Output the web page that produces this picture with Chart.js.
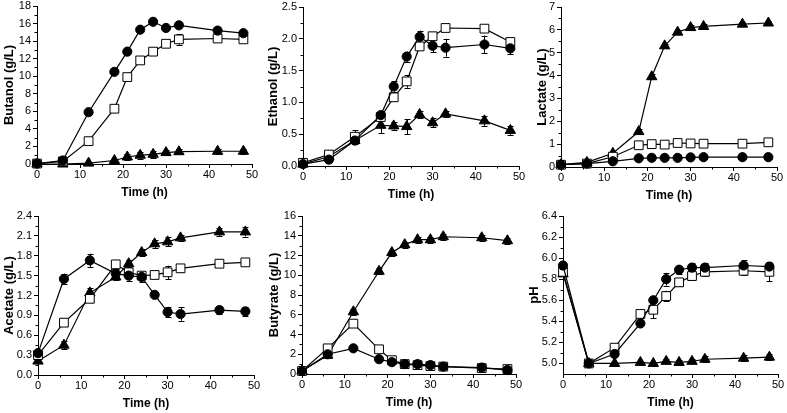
<!DOCTYPE html>
<html>
<head>
<meta charset="utf-8">
<script src="https://cdn.jsdelivr.net/npm/chart.js@4"></script>
<style>
  html, body { margin: 0; padding: 0; background: #fff; }
  body { position: relative; width: 787px; height: 413px; overflow: hidden; }
  canvas { position: absolute; }
</style>
</head>
<body>
<script>
'use strict';

// ── Sampling times (h) ─────────────────────────
const TIME    = [0, 6, 12, 18, 21, 24, 27, 30, 33, 42, 48];
const X_TICKS = [0, 10, 20, 30, 40, 50];

// ── Butanol (g/L) ──────────────────────────────
const BUTANOL_CIRCLE   = [0.05, 0.4, 5.9, 10.5, 12.8, 15.3, 16.2, 15.5, 15.8, 15.2, 14.9];
const BUTANOL_SQUARE   = [0.05, 0.3, 2.6, 6.3, 9.9, 11.8, 12.8, 13.7, 14.2, 14.3, 14.2];
const BUTANOL_TRIANGLE = [0, 0, 0.1, 0.4, 0.8, 1.0, 1.1, 1.3, 1.4, 1.45, 1.45];
const BUTANOL_CIRCLE_ERR   = [0, 0, 0, 0, 0, 0, 0, 0, 0.2, 0, 0];
const BUTANOL_SQUARE_ERR   = [0, 0, 0, 0, 0.3, 0.3, 0, 0.3, 0.6, 0, 0];
const BUTANOL_TRIANGLE_ERR = [0, 0, 0, 0, 0.3, 0.4, 0.4, 0.3, 0.3, 0.3, 0.3];
const BUTANOL_TICKS = [0, 2, 4, 6, 8, 10, 12, 14, 16, 18];

// ── Ethanol (g/L) ──────────────────────────────
const ETHANOL_CIRCLE   = [0.03, 0.1, 0.4, 0.8, 1.25, 1.72, 2.03, 1.89, 1.86, 1.91, 1.85];
const ETHANOL_SQUARE   = [0.05, 0.18, 0.46, 0.77, 1.08, 1.33, 1.88, 2.04, 2.17, 2.16, 1.95];
const ETHANOL_TRIANGLE = [0.03, 0.15, 0.4, 0.64, 0.63, 0.62, 0.81, 0.68, 0.82, 0.71, 0.56];
const ETHANOL_CIRCLE_ERR   = [0, 0, 0, 0.03, 0.08, 0.08, 0.1, 0.1, 0.14, 0.14, 0.09];
const ETHANOL_SQUARE_ERR   = [0, 0, 0.1, 0, 0, 0.1, 0, 0.05, 0.04, 0, 0.05];
const ETHANOL_TRIANGLE_ERR = [0, 0, 0.06, 0.12, 0.06, 0.12, 0.05, 0.07, 0.05, 0.08, 0.07];
const ETHANOL_TICKS = [0, 0.5, 1.0, 1.5, 2.0, 2.5];

// ── Lactate (g/L) ──────────────────────────────
const LACTATE_CIRCLE   = [0.1, 0.15, 0.25, 0.38, 0.4, 0.4, 0.4, 0.42, 0.43, 0.43, 0.43];
const LACTATE_SQUARE   = [0.1, 0.15, 0.45, 0.95, 1.0, 0.98, 1.05, 1.03, 1.02, 1.02, 1.08];
const LACTATE_TRIANGLE = [0.1, 0.2, 0.6, 1.55, 3.95, 5.3, 5.9, 6.1, 6.15, 6.25, 6.3];
const LACTATE_CIRCLE_ERR   = [0, 0, 0, 0, 0, 0, 0, 0, 0, 0, 0];
const LACTATE_SQUARE_ERR   = [0, 0, 0, 0.08, 0.08, 0.08, 0.08, 0.08, 0.08, 0.08, 0.08];
const LACTATE_TRIANGLE_ERR = [0, 0, 0, 0.1, 0.1, 0.1, 0.1, 0.1, 0.1, 0.1, 0.1];
const LACTATE_TICKS = [0, 1, 2, 3, 4, 5, 6, 7];

// ── Acetate (g/L) ──────────────────────────────
const ACETATE_CIRCLE   = [0.33, 1.45, 1.73, 1.53, 1.5, 1.48, 1.21, 0.95, 0.92, 0.98, 0.96];
const ACETATE_SQUARE   = [0.3, 0.79, 1.15, 1.67, 1.55, 1.5, 1.51, 1.55, 1.61, 1.68, 1.7];
const ACETATE_TRIANGLE = [0.21, 0.45, 1.24, 1.48, 1.68, 1.85, 1.98, 2.01, 2.07, 2.16, 2.16];
const ACETATE_CIRCLE_ERR   = [0, 0.08, 0.1, 0.07, 0.08, 0.08, 0.05, 0.08, 0.1, 0.06, 0.07];
const ACETATE_SQUARE_ERR   = [0, 0, 0.04, 0, 0.04, 0, 0, 0.1, 0.05, 0.05, 0];
const ACETATE_TRIANGLE_ERR = [0, 0.06, 0.07, 0.05, 0.05, 0.05, 0.06, 0.07, 0.05, 0.06, 0.07];
const ACETATE_TICKS = [0, 0.3, 0.6, 0.9, 1.2, 1.5, 1.8, 2.1, 2.4];

// ── Butyrate (g/L) ─────────────────────────────
const BUTYRATE_CIRCLE   = [0.3, 2.0, 2.6, 1.5, 1.2, 1.0, 1.0, 0.9, 0.75, 0.65, 0.4];
const BUTYRATE_SQUARE   = [0.3, 2.6, 5.1, 2.5, 1.4, 1.0, 0.9, 0.8, 0.75, 0.6, 0.5];
const BUTYRATE_TRIANGLE = [0.3, 1.9, 6.3, 10.4, 12.3, 13.1, 13.6, 13.6, 13.9, 13.8, 13.5];
const BUTYRATE_CIRCLE_ERR   = [0, 0, 0, 0, 0, 0, 0, 0, 0, 0, 0];
const BUTYRATE_SQUARE_ERR   = [0, 0, 0, 0, 0, 0, 0, 0, 0, 0, 0];
const BUTYRATE_TRIANGLE_ERR = [0, 0.3, 0.3, 0.3, 0.3, 0.3, 0.3, 0.3, 0.3, 0.3, 0.3];
const BUTYRATE_TICKS = [0, 2, 4, 6, 8, 10, 12, 14, 16];

// ── pH ─────────────────────────────────────────
const PH_CIRCLE   = [5.93, 5.0, 5.09, 5.38, 5.6, 5.8, 5.89, 5.91, 5.91, 5.93, 5.92];
const PH_SQUARE   = [5.87, 5.0, 5.15, 5.47, 5.51, 5.64, 5.77, 5.83, 5.87, 5.88, 5.87];
const PH_TRIANGLE = [5.85, 5.0, 5.0, 5.01, 5.0, 5.02, 5.01, 5.02, 5.04, 5.05, 5.06];
const PH_CIRCLE_ERR   = [0, 0, 0, 0, 0, 0.06, 0.04, 0.04, 0.04, 0.05, 0.03];
const PH_SQUARE_ERR   = [0, 0, 0, 0, 0.08, 0.05, 0.03, 0.04, 0.04, 0.04, 0.09];
const PH_TRIANGLE_ERR = [0, 0, 0, 0, 0, 0.02, 0.02, 0.02, 0.03, 0.03, 0.03];
const PH_TICKS = [5.0, 5.2, 5.4, 5.6, 5.8, 6.0, 6.2, 6.4];

// ── Panels (layout: plot area left/top/right/bottom, y-title centre x) ──
const PANELS = [
  { title: 'Butanol (g/L)', area: [37, 6, 252, 164], titleX: 9, min: 0, max: 18, ticks: BUTANOL_TICKS, dec: 0,
    series: [BUTANOL_CIRCLE, BUTANOL_SQUARE, BUTANOL_TRIANGLE], err: [BUTANOL_CIRCLE_ERR, BUTANOL_SQUARE_ERR, BUTANOL_TRIANGLE_ERR] },
  { title: 'Ethanol (g/L)', area: [303, 7, 519, 166], titleX: 273, min: 0, max: 2.5, ticks: ETHANOL_TICKS, dec: 1,
    series: [ETHANOL_CIRCLE, ETHANOL_SQUARE, ETHANOL_TRIANGLE], err: [ETHANOL_CIRCLE_ERR, ETHANOL_SQUARE_ERR, ETHANOL_TRIANGLE_ERR] },
  { title: 'Lactate (g/L)', area: [561, 7, 777, 167], titleX: 542, min: 0, max: 7, ticks: LACTATE_TICKS, dec: 0,
    series: [LACTATE_CIRCLE, LACTATE_SQUARE, LACTATE_TRIANGLE], err: [LACTATE_CIRCLE_ERR, LACTATE_SQUARE_ERR, LACTATE_TRIANGLE_ERR] },
  { title: 'Acetate (g/L)', area: [38, 216, 254, 375], titleX: 9, min: 0, max: 2.4, ticks: ACETATE_TICKS, dec: 1,
    series: [ACETATE_CIRCLE, ACETATE_SQUARE, ACETATE_TRIANGLE], err: [ACETATE_CIRCLE_ERR, ACETATE_SQUARE_ERR, ACETATE_TRIANGLE_ERR] },
  { title: 'Butyrate (g/L)', area: [302, 216, 516, 374], titleX: 274, min: 0, max: 16, ticks: BUTYRATE_TICKS, dec: 0,
    series: [BUTYRATE_CIRCLE, BUTYRATE_SQUARE, BUTYRATE_TRIANGLE], err: [BUTYRATE_CIRCLE_ERR, BUTYRATE_SQUARE_ERR, BUTYRATE_TRIANGLE_ERR] },
  { title: 'pH', area: [563, 216, 778, 374], titleX: 534, min: 4.9, max: 6.4, ticks: PH_TICKS, dec: 1,
    series: [PH_CIRCLE, PH_SQUARE, PH_TRIANGLE], err: [PH_CIRCLE_ERR, PH_SQUARE_ERR, PH_TRIANGLE_ERR] },
];

// ── Marker styles: filled circle, open square, filled triangle ──
const MARKERS = [
  { pointStyle: 'circle',   radius: 4.6, bg: '#000' },
  { pointStyle: 'rect',     radius: 6.2, bg: '#fff' },
  { pointStyle: 'triangle', radius: 6.0, bg: '#000' },
];

Chart.defaults.font.family = '"Liberation Sans", Arial, sans-serif';
Chart.defaults.color = '#000';

// ── Plugins ────────────────────────────────────
const px = v => Math.round(v) + 0.5;

const errorBars = {
  id: 'errorBars',
  beforeDatasetsDraw(chart) {
    const { ctx, scales: { y } } = chart;
    ctx.save();
    ctx.strokeStyle = '#000';
    ctx.lineWidth = 1;
    chart.data.datasets.forEach((ds, i) => {
      if (!ds.err) return;
      chart.getDatasetMeta(i).data.forEach((pt, j) => {
        const e = ds.err[j];
        if (!e) return;
        const v = ds.data[j].y;
        const y1 = y.getPixelForValue(v + e), y2 = y.getPixelForValue(v - e);
        const x = px(pt.x);
        ctx.beginPath();
        ctx.moveTo(x, y1); ctx.lineTo(x, y2);
        ctx.moveTo(x - 3, px(y1)); ctx.lineTo(x + 3, px(y1));
        ctx.moveTo(x - 3, px(y2)); ctx.lineTo(x + 3, px(y2));
        ctx.stroke();
      });
    });
    ctx.restore();
  },
};

const minorTicks = {
  id: 'minorTicks',
  afterDraw(chart) {
    const { ctx, scales: { x, y }, chartArea: a } = chart;
    ctx.save();
    ctx.strokeStyle = '#000';
    ctx.lineWidth = 1;
    ctx.beginPath();
    const xt = x.ticks.map(t => t.value);
    for (let i = 0; i < xt.length - 1; i++) {
      const p = px(x.getPixelForValue((xt[i] + xt[i + 1]) / 2));
      ctx.moveTo(p, a.bottom); ctx.lineTo(p, a.bottom + 2.5);
    }
    const yt = y.ticks.map(t => t.value);
    for (let i = 0; i < yt.length - 1; i++) {
      const p = px(y.getPixelForValue((yt[i] + yt[i + 1]) / 2));
      ctx.moveTo(a.left, p); ctx.lineTo(a.left - 2.5, p);
    }
    ctx.stroke();
    ctx.restore();
  },
};

// ── Build one panel ────────────────────────────
function makePanel(p) {
  const [l, t, r, b] = p.area;
  const cLeft = Math.floor(p.titleX - 10);
  const cTop = t - 10;
  const xAxisH = 36;
  const canvas = document.createElement('canvas');
  canvas.width = r + 10 - cLeft;
  canvas.height = b + xAxisH - cTop;
  canvas.style.left = cLeft + 'px';
  canvas.style.top = cTop + 'px';
  document.body.appendChild(canvas);

  const datasets = p.series.map((vals, i) => ({
    data: TIME.map((tm, j) => ({ x: tm, y: vals[j] })),
    err: p.err[i],
    borderColor: '#000',
    borderWidth: 1.2,
    pointStyle: MARKERS[i].pointStyle,
    pointRadius: MARKERS[i].radius,
    pointBackgroundColor: MARKERS[i].bg,
    pointBorderColor: '#000',
    pointBorderWidth: 1,
    tension: 0,
    clip: false,
  }));

  new Chart(canvas, {
    type: 'line',
    data: { datasets },
    options: {
      responsive: false,
      animation: false,
      events: [],
      layout: { padding: { left: 0, top: 10, right: 10, bottom: 0 } },
      plugins: { legend: { display: false }, tooltip: { enabled: false } },
      scales: {
        x: {
          type: 'linear', min: 0, max: 50,
          afterBuildTicks: s => { s.ticks = X_TICKS.map(v => ({ value: v })); },
          afterFit: s => { s.height = xAxisH; },
          grid: { drawOnChartArea: false, tickLength: 4, color: '#000' },
          border: { color: '#000', width: 1 },
          ticks: { font: { size: 11 }, padding: 0, maxRotation: 0, color: '#000' },
          title: { display: true, text: 'Time (h)', font: { size: 12, weight: 'bold' }, color: '#000', padding: 0 },
        },
        y: {
          type: 'linear', min: p.min, max: p.max,
          afterBuildTicks: s => { s.ticks = p.ticks.map(v => ({ value: v })); },
          afterFit: s => { s.width = l - cLeft; },
          grid: { drawOnChartArea: false, tickLength: 4, color: '#000' },
          border: { color: '#000', width: 1 },
          ticks: { font: { size: 11 }, padding: 2, color: '#000', callback: v => Number(v).toFixed(p.dec) },
          title: { display: true, text: p.title, font: { size: 13, weight: 'bold' }, color: '#000',
                   padding: { top: p.titleX - 7.8 - cLeft, bottom: 0 } },
        },
      },
    },
    plugins: [errorBars, minorTicks],
  });
}

PANELS.forEach(makePanel);
</script>
</body>
</html>
